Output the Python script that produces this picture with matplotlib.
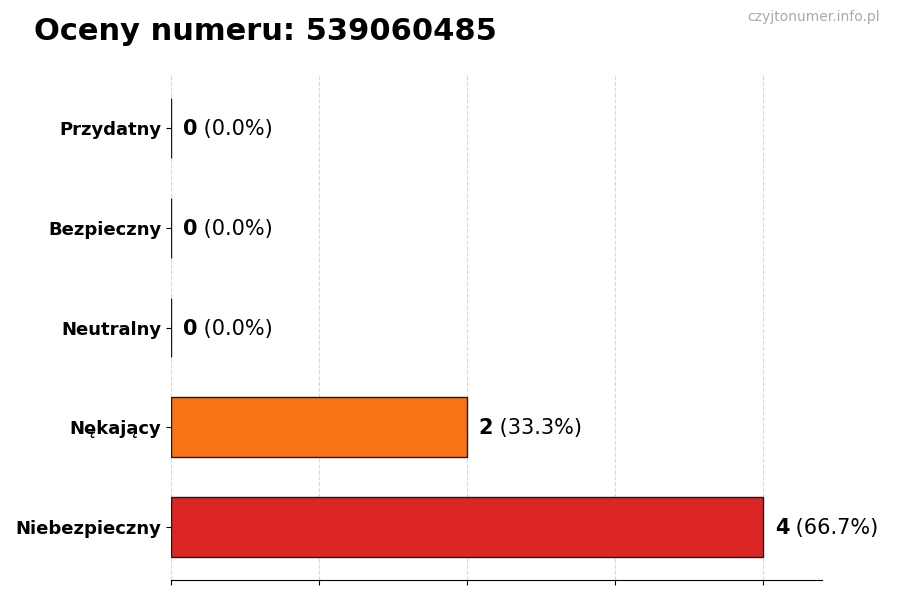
import matplotlib

matplotlib.use("Agg")
import matplotlib.pyplot as plt

# --- data ---
categories = ["Niebezpieczny", "Nękający", "Neutralny", "Bezpieczny", "Przydatny"]
counts = [4, 2, 0, 0, 0]
colors = ["#dc2626", "#f97316", "#a3a3a3", "#22c55e", "#3b82f6"]
title = "Oceny numeru: 539060485"
watermark = "czyjtonumer.info.pl"

total = sum(counts)

fig = plt.figure(figsize=(9, 6), dpi=100)
ax = fig.add_axes([0.19, 0.0333, 0.7233, 0.8417])

ypos = list(range(len(categories)))
ax.barh(ypos, counts, height=0.6, color=colors, edgecolor="#1a1a1a", linewidth=1, zorder=3)

ax.set_xlim(0, 4.4)
ax.set_yticks(ypos)
ax.set_yticklabels(categories, fontsize=13, fontweight="bold")
ax.set_xticks(range(0, 5))
ax.set_xticklabels([])
ax.grid(axis="x", linestyle="--", color="#d9d9d9", linewidth=0.8, zorder=0)
for side in ("top", "right", "left"):
    ax.spines[side].set_visible(False)

for y, c in zip(ypos, counts):
    pct = 100 * c / total if total else 0
    t = ax.text(c + 0.08, y - 0.01, f"{c}", va="center", ha="left", fontsize=15, fontweight="bold")
    ax.annotate(f" ({pct:.1f}%)", xycoords=t, xy=(1, 0.5), va="center", ha="left", fontsize=15)

fig.text(0.038, 0.948, title, fontsize=22, fontweight="bold", va="center", ha="left")
fig.text(0.978, 0.971, watermark, fontsize=10, color="#aaaaaa", va="center", ha="right")

fig.savefig("out.png", dpi=100)
